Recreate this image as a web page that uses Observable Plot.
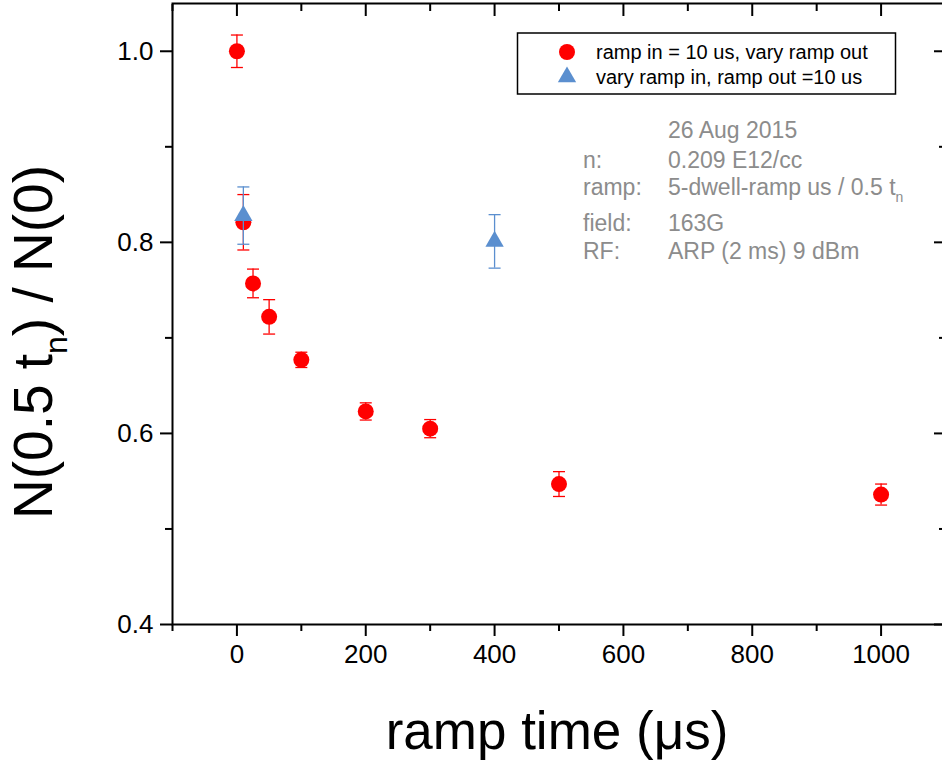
<!DOCTYPE html>
<html><head><meta charset="utf-8">
<script src="https://cdn.jsdelivr.net/npm/d3@7"></script>
<script src="https://cdn.jsdelivr.net/npm/@observablehq/plot@0.6"></script>
<style>
html,body{margin:0;padding:0;background:#fff;overflow:hidden;}
#wrap{position:relative;width:942px;height:763px;overflow:hidden;}
</style></head><body><div id="wrap"></div>
<script>
// ---- data ----
const rampOutX = [0, 10, 25, 50, 100, 200, 300, 500, 1000];
const rampOutY = [1.0, 0.821, 0.757, 0.722, 0.677, 0.623, 0.605, 0.547, 0.536];
const rampOutErr = [0.017, 0.029, 0.015, 0.018, 0.008, 0.009, 0.0095, 0.013, 0.011];
const rampInX = [10, 400];
const rampInY = [0.828, 0.801];
const rampInErr = [0.030, 0.028];
const xMajor = [0, 200, 400, 600, 800, 1000];
const xMinor = [-100, 100, 300, 500, 700, 900];
const yMajor = [0.4, 0.6, 0.8, 1.0];
const yMinor = [0.5, 0.7, 0.9];
const seriesNames = ["ramp in = 10 us, vary ramp out", "vary ramp in, ramp out =10 us"];
const infoLabels = ["", "n:", "ramp:", "field:", "RF:"];
const infoValues = ["26 Aug 2015", "0.209 E12/cc", "5-dwell-ramp us / 0.5 t", "163G", "ARP (2 ms) 9 dBm"];

const red = "#ff0000", blue = "#5b8fcf", gray = "#8c8c8c";
const font = "'Liberation Sans', Arial, sans-serif";

const outRows = rampOutX.map((x, i) => ({x, y: rampOutY[i], e: rampOutErr[i]}));
const inRows = rampInX.map((x, i) => ({x, y: rampInY[i], e: rampInErr[i]}));

const capSym = {draw(ctx, size) { const r = Math.sqrt(size / Math.PI); ctx.moveTo(-r, 0); ctx.lineTo(r, 0); }};

function errMarks(rows, color) {
  return [
    Plot.ruleX(rows, {x: "x", y1: d => d.y - d.e, y2: d => d.y + d.e, stroke: color, strokeWidth: 1.3}),
    Plot.dot(rows, {x: "x", y: d => d.y + d.e, symbol: capSym, r: 6, stroke: color, fill: "none", strokeWidth: 1.3}),
    Plot.dot(rows, {x: "x", y: d => d.y - d.e, symbol: capSym, r: 6, stroke: color, fill: "none", strokeWidth: 1.3})
  ];
}

const ax = {strokeWidth: 2, label: null};
const plot = Plot.plot({
  width: 946, height: 763,
  marginLeft: 172, marginRight: 1, marginTop: 3, marginBottom: 139,
  style: {fontFamily: font, fontSize: "26px", color: "#000", background: "#fff", overflow: "visible", maxWidth: "none"},
  x: {domain: [-100, 1100]},
  y: {domain: [0.4, 1.05]},
  marks: [
    Plot.axisX({...ax, anchor: "bottom", ticks: xMajor, tickSize: 12, tickPadding: 8, fontSize: 26, tickFormat: d => String(d)}),
    Plot.axisX({...ax, anchor: "bottom", ticks: xMinor, tickSize: 7, text: null}),
    Plot.axisX({...ax, anchor: "top", ticks: xMajor, tickSize: -12, text: null}),
    Plot.axisX({...ax, anchor: "top", ticks: xMinor, tickSize: -7, text: null}),
    Plot.axisY({...ax, anchor: "left", ticks: yMajor, tickSize: 12, tickPadding: 7, fontSize: 26, tickFormat: d => d.toFixed(1)}),
    Plot.axisY({...ax, anchor: "left", ticks: yMinor, tickSize: 7, text: null}),
    Plot.axisY({...ax, anchor: "right", ticks: yMajor, tickSize: -12, text: null}),
    Plot.axisY({...ax, anchor: "right", ticks: yMinor, tickSize: -7, text: null}),
    Plot.frame({strokeWidth: 2}),
    ...errMarks(outRows, red),
    Plot.dot(outRows, {x: "x", y: "y", r: 8, fill: red}),
    ...errMarks(inRows, blue),
    Plot.dot(inRows, {x: "x", y: "y", symbol: "triangle", r: 6.8, fill: blue})
  ]
});
document.getElementById("wrap").appendChild(plot);

// ---- titles, legend, annotation ----
const svg = d3.select(plot);
const g = svg.append("g").attr("font-family", font).attr("text-anchor", "start");

// x title
g.append("text").attr("x", 557).attr("y", 749).attr("text-anchor", "middle")
  .attr("font-size", 53).attr("fill", "#000").text("ramp time (\u03bcs)");

// y title
const yt = g.append("text").attr("transform", "translate(52,342) rotate(-90)")
  .attr("text-anchor", "middle").attr("font-size", 55).attr("fill", "#000");
yt.append("tspan").text("N(0.5 t");
yt.append("tspan").attr("font-size", 32).attr("dy", 15).text("n");
yt.append("tspan").attr("dy", -15).text(") / N(0)");

// legend
const lg = g.append("g");
lg.append("rect").attr("x", 517.5).attr("y", 33).attr("width", 378).attr("height", 61)
  .attr("fill", "#fff").attr("stroke", "#000").attr("stroke-width", 1.5);
lg.append("path").attr("transform", "translate(567,52)").attr("d", d3.symbol(d3.symbolCircle, Math.PI * 64)()).attr("fill", red);
lg.append("path").attr("transform", "translate(567,77)").attr("d", d3.symbol(d3.symbolTriangle, Math.PI * 6.8 * 6.8)()).attr("fill", blue);
seriesNames.forEach((s, i) => {
  lg.append("text").attr("x", 596).attr("y", 59 + i * 25).attr("font-size", 20).attr("fill", "#000").text(s);
});

// info annotation
const baselines = [138, 168, 195, 231, 259];
const ig = g.append("g").attr("font-size", 23).attr("fill", gray);
infoLabels.forEach((s, i) => {
  if (s) ig.append("text").attr("x", 583).attr("y", baselines[i]).text(s);
  const t = ig.append("text").attr("x", 668).attr("y", baselines[i]).text(infoValues[i]);
  if (i === 2) t.append("tspan").attr("font-size", 14).attr("dy", 7).text("n");
});
</script></body></html>
